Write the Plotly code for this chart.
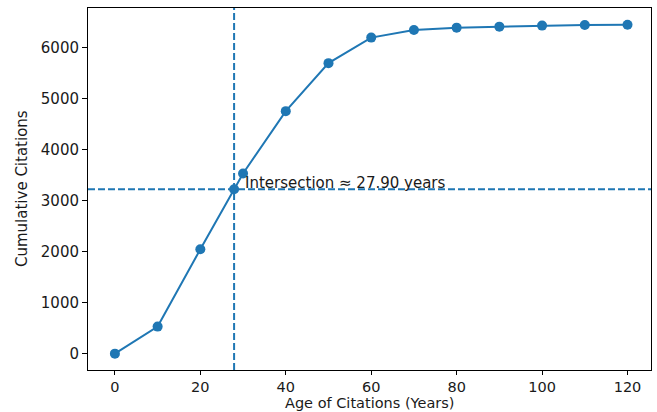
import plotly.graph_objects as go

ages = [0, 10, 20, 30, 40, 50, 60, 70, 80, 90, 100, 110, 120]
cumulative = [0, 530, 2045, 3530, 4750, 5690, 6190, 6340, 6385, 6405, 6425, 6437, 6442]
half_value = 3221
intersection_age = 27.90
annotation_text = "Intersection ≈ 27.90 years"
x_ticks = [0, 20, 40, 60, 80, 100, 120]
y_ticks = [0, 1000, 2000, 3000, 4000, 5000, 6000]
x_title = "Age of Citations (Years)"
y_title = "Cumulative Citations"

blue = "#1f77b4"
font = dict(family="DejaVu Sans", size=15, color="#1a1a1a")
small_font = dict(family="DejaVu Sans", size=14.5, color="#1a1a1a")

fig = go.Figure()
fig.add_trace(go.Scatter(
    x=ages, y=cumulative, mode="lines+markers",
    line=dict(color=blue, width=2),
    marker=dict(color=blue, size=10),
    showlegend=False,
))
fig.add_trace(go.Scatter(
    x=[intersection_age], y=[half_value], mode="markers",
    marker=dict(color=blue, size=10), showlegend=False,
))
fig.add_shape(type="line", xref="paper", x0=0, x1=1, yref="y", y0=half_value, y1=half_value,
              line=dict(color=blue, width=2, dash="7px,3px"), layer="below")
fig.add_shape(type="line", yref="paper", y0=0, y1=1, xref="x", x0=intersection_age, x1=intersection_age,
              line=dict(color=blue, width=2, dash="7px,3px"), layer="below")
fig.add_annotation(x=intersection_age + 2, y=half_value, text=annotation_text,
                   showarrow=False, xanchor="left", yanchor="bottom", yshift=-5,
                   font=font)
fig.add_annotation(xref="paper", yref="paper", x=0.5, y=0, yshift=-42,
                   xanchor="center", yanchor="bottom", borderpad=0,
                   text=x_title, showarrow=False, font=small_font)
fig.add_annotation(xref="paper", yref="paper", x=0, y=0.5, xshift=-66,
                   xanchor="center", yanchor="middle", text=y_title, textangle=-90,
                   showarrow=False, font=font)

fig.update_layout(
    width=657, height=412,
    margin=dict(l=88, r=6, t=8, b=42),
    paper_bgcolor="white", plot_bgcolor="white",
    font=font,
)
fig.update_xaxes(
    range=[-6.3, 125.5], tickvals=x_ticks, ticks="outside", ticklen=4, tickcolor="black",
    tickfont=small_font,
    showline=True, linecolor="black", linewidth=1, mirror=True, showgrid=False, zeroline=False,
    automargin=False,
)
fig.update_yaxes(
    range=[-320, 6770], tickvals=y_ticks, ticks="outside", ticklen=5, tickcolor="black",
    showline=True, linecolor="black", linewidth=1, mirror=True, showgrid=False, zeroline=False,
    automargin=False,
)

fig.write_html("out.html", config={"displayModeBar": False},
               post_script="document.body.style.margin='0';document.body.style.overflow='hidden';")
